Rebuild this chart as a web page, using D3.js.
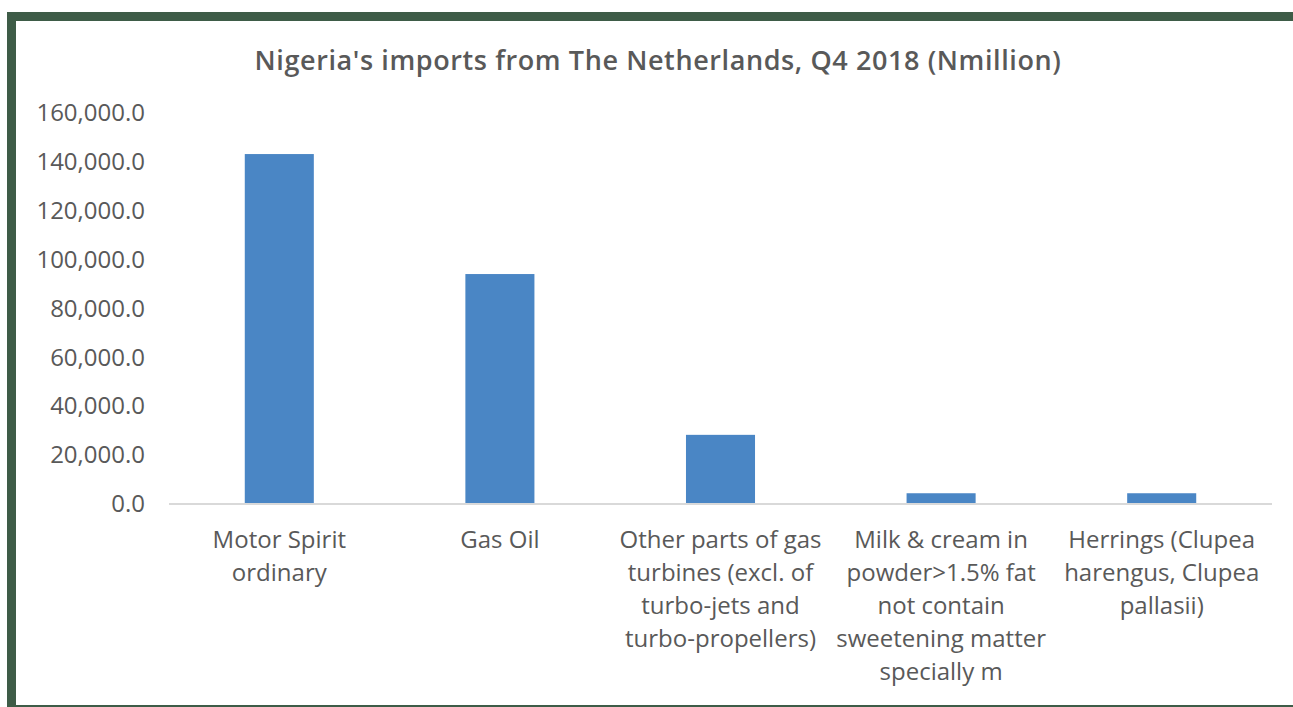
<!DOCTYPE html>
<html>
<head>
<meta charset="utf-8">
<script src="https://cdn.jsdelivr.net/npm/d3@7"></script>
<style>
  body { margin: 0; background: #fff; }
  text { font-family: "Open Sans", Lato, sans-serif; fill: #595959; }
</style>
</head>
<body>
<div id="chart"></div>
<script>
var title = "Nigeria's imports from The Netherlands, Q4 2018 (Nmillion)"
var categories = ["Motor Spirit ordinary", "Gas Oil",
  "Other parts of gas turbines (excl. of turbo-jets and turbo-propellers)",
  "Milk & cream in powder>1.5% fat not contain sweetening matter specially m",
  "Herrings (Clupea harengus, Clupea pallasii)"]
var labelLines = [
  ["Motor Spirit", "ordinary"],
  ["Gas Oil"],
  ["Other parts of gas", "turbines (excl. of", "turbo-jets and", "turbo-propellers)"],
  ["Milk & cream in", "powder>1.5% fat", "not contain", "sweetening matter", "specially m"],
  ["Herrings (Clupea", "harengus, Clupea", "pallasii)"]
]
var values = [143200, 94100, 28300, 4400, 4400]
var yTicks = [0, 20000, 40000, 60000, 80000, 100000, 120000, 140000, 160000]

var W = 1293, H = 707
var margin = {top: 113, right: 21, bottom: 203, left: 169},
    width = W - margin.left - margin.right,
    height = H - margin.top - margin.bottom;

var svg = d3.select("#chart").append("svg")
    .attr("width", W).attr("height", H)

// frame
svg.append("rect").attr("x", 7).attr("y", 12).attr("width", W - 7).attr("height", 9).attr("fill", "#3e5c47")
svg.append("rect").attr("x", 7).attr("y", 12).attr("width", 9).attr("height", H - 12).attr("fill", "#3e5c47")
svg.append("rect").attr("x", 7).attr("y", 705).attr("width", W - 7).attr("height", 2).attr("fill", "#3e5c47")

svg.append("text")
    .attr("x", 658).attr("y", 70)
    .attr("text-anchor", "middle")
    .attr("font-size", "27px")
    .attr("font-weight", "600")
    .attr("letter-spacing", "0.6px")
    .text(title)

var g = svg.append("g")
    .attr("transform", "translate(" + margin.left + "," + margin.top + ")");

var x = d3.scaleBand().domain(categories).range([0, width]).paddingInner(0.687).paddingOuter(0.3435)
var y = d3.scaleLinear().domain([0, 160000]).range([height, 0])

var fmt = d3.format(",.1f")
var yAxis = d3.axisLeft(y).tickValues(yTicks).tickFormat(fmt).tickSize(0).tickPadding(24)
var ya = g.append("g").call(yAxis)
ya.select(".domain").remove()
ya.selectAll("text").attr("font-size", "24px").attr("fill", "#595959").attr("font-family", "'Open Sans', sans-serif")

g.selectAll(".bar").data(values).enter()
  .append("rect")
    .attr("class", "bar")
    .attr("x", function(d, i){ return x(categories[i]) })
    .attr("y", function(d){ return y(d) })
    .attr("width", x.bandwidth())
    .attr("height", function(d){ return height - y(d) })
    .attr("fill", "#4a86c5")

g.append("line")
    .attr("x1", 0).attr("x2", width)
    .attr("y1", height).attr("y2", height)
    .attr("stroke", "#d9d9d9").attr("stroke-width", 2)

var labels = g.selectAll(".cat").data(categories).enter()
  .append("text")
    .attr("class", "cat")
    .attr("text-anchor", "middle")
    .attr("font-size", "24px")
    .attr("transform", function(d){ return "translate(" + (x(d) + x.bandwidth() / 2) + "," + (height + 44) + ")" })

labels.selectAll("tspan").data(function(d, i){ return labelLines[i] }).enter()
  .append("tspan")
    .attr("x", 0)
    .attr("dy", function(d, i){ return i == 0 ? 0 : 33 })
    .text(function(d){ return d })
</script>
</body>
</html>
